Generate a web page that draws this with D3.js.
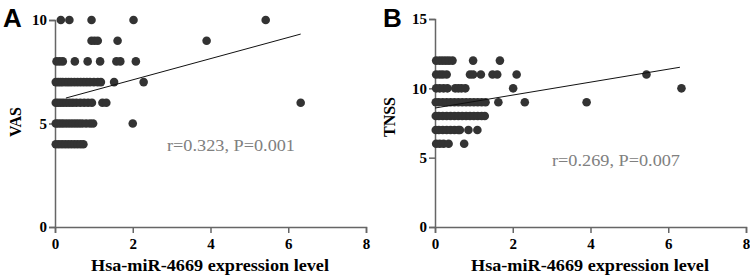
<!DOCTYPE html>
<html lang="en">
<head>
  <meta charset="UTF-8">
  <title>scatter-correlation</title>
  <script src="https://cdn.jsdelivr.net/npm/d3@7"></script>
  <style>
    body { margin: 0; background: #fff; }
    .tick text { font-family: "Liberation Serif", serif; font-weight: bold; font-size: 15px; fill: #000; }
    .axis path, .axis line { stroke: #666; stroke-width: 1.5px; }
  </style>
</head>
<body>
<script>
// x values of the points, grouped by their (integer) score
let vasLevels = [10, 9, 8, 7, 6, 5, 4];
let vasX = [
  [0.15, 0.37, 0.94, 2.02, 5.42],
  [0.94, 1.02, 1.1, 1.61, 3.9],
  [0.04, 0.12, 0.2, 0.51, 0.84, 1.16, 1.58, 1.68, 2.08],
  [0.02, 0.08, 0.14, 0.2, 0.28, 0.35, 0.42, 0.5, 0.58, 0.66, 0.74, 0.82, 0.9, 1.0, 1.1, 1.18, 1.52, 2.28],
  [0.02, 0.08, 0.15, 0.22, 0.3, 0.38, 0.46, 0.55, 0.65, 0.75, 0.85, 0.95, 1.22, 1.32, 6.32],
  [0.02, 0.08, 0.15, 0.22, 0.3, 0.38, 0.46, 0.54, 0.62, 0.7, 0.8, 0.9, 0.98, 2.0],
  [0.02, 0.1, 0.18, 0.26, 0.34, 0.42, 0.5, 0.58, 0.66, 0.73]
];
let vasFit = [[0.28, 6.23], [6.32, 9.32]];

let tnssLevels = [12, 11, 10, 9, 8, 7, 6];
let tnssX = [
  [0.03, 0.12, 0.2, 0.28, 0.36, 0.45, 0.98, 1.67],
  [0.03, 0.12, 0.2, 0.3, 0.9, 0.98, 1.18, 1.48, 1.6, 2.1, 5.44],
  [0.03, 0.12, 0.22, 0.32, 0.52, 0.6, 0.68, 0.78, 2.01, 6.34],
  [0.02, 0.1, 0.2, 0.3, 0.4, 0.5, 0.6, 0.7, 0.8, 0.9, 1.0, 1.1, 1.2, 1.3, 1.63, 2.31, 3.9],
  [0.02, 0.1, 0.2, 0.3, 0.4, 0.5, 0.6, 0.7, 0.8, 0.9, 1.0, 1.1, 1.2, 1.28],
  [0.02, 0.1, 0.2, 0.3, 0.4, 0.5, 0.6, 0.64, 0.86, 1.09],
  [0.03, 0.12, 0.22, 0.35, 0.75]
];
let tnssFit = [[0, 8.58], [6.3, 11.52]];

let xTicks = [0, 2, 4, 6, 8];
let vasTicks = [0, 5, 10];
let tnssTicks = [0, 5, 10, 15];

let svg = d3.select('body')
  .append('svg')
  .attr('width', 750)
  .attr('height', 278);

function panel(opt) {
  let g = svg.append('g');
  let x = d3.scaleLinear().domain([0, 8]).range([opt.left, opt.left + 311]);
  let y = d3.scaleLinear().domain([0, opt.yMax]).range([227, opt.top]);

  g.append('g')
    .attr('class', 'axis')
    .attr('transform', 'translate(0,227)')
    .call(d3.axisBottom(x).tickValues(xTicks).tickSize(6).tickPadding(5));

  g.append('g')
    .attr('class', 'axis')
    .attr('transform', 'translate(' + opt.left + ',0)')
    .call(d3.axisLeft(y).tickValues(opt.ticks).tickSize(6).tickPadding(2));

  let pts = [];
  opt.levels.forEach(function (lv, i) {
    opt.xs[i].forEach(function (v) { pts.push({x: v, y: lv}); });
  });

  g.selectAll('circle.pt')
    .data(pts)
    .enter()
    .append('circle')
    .attr('class', 'pt')
    .attr('cx', function (d) { return x(d.x); })
    .attr('cy', function (d) { return y(d.y); })
    .attr('r', 4.3)
    .attr('fill', '#333');

  g.append('path')
    .datum(opt.fit)
    .attr('d', d3.line().x(function (d) { return x(d[0]); }).y(function (d) { return y(d[1]); }))
    .attr('stroke', '#111')
    .attr('stroke-width', 1)
    .attr('fill', 'none');

  g.append('text')
    .attr('x', opt.left + 155)
    .attr('y', 271)
    .attr('text-anchor', 'middle')
    .attr('textLength', 238)
    .attr('lengthAdjust', 'spacingAndGlyphs')
    .style('font-family', '"Liberation Serif", serif')
    .style('font-weight', 'bold')
    .style('font-size', '16px')
    .text('Hsa-miR-4669 expression level');

  g.append('text')
    .attr('transform', 'translate(' + opt.labelX + ',' + opt.labelY + ') rotate(-90)')
    .attr('text-anchor', 'middle')
    .style('font-family', '"Liberation Serif", serif')
    .style('font-weight', 'bold')
    .style('font-size', '16px')
    .text(opt.yTitle);

  g.append('text')
    .attr('x', opt.noteX)
    .attr('y', opt.noteY)
    .attr('textLength', 128)
    .attr('lengthAdjust', 'spacingAndGlyphs')
    .style('font-family', '"Liberation Serif", serif')
    .style('font-size', '16px')
    .style('fill', '#808080')
    .text(opt.note);

  g.append('text')
    .attr('x', opt.left - 52)
    .attr('y', 27)
    .style('font-family', '"Liberation Sans", Arial, sans-serif')
    .style('font-weight', 'bold')
    .style('font-size', '26px')
    .text(opt.letter);
}

panel({
  left: 55, top: 20, yMax: 10, ticks: vasTicks,
  levels: vasLevels, xs: vasX, fit: vasFit,
  yTitle: 'VAS', labelX: 21, labelY: 122,
  note: 'r=0.323, P=0.001', noteX: 167, noteY: 151, letter: 'A'
});

panel({
  left: 435, top: 19, yMax: 15, ticks: tnssTicks,
  levels: tnssLevels, xs: tnssX, fit: tnssFit,
  yTitle: 'TNSS', labelX: 395, labelY: 117,
  note: 'r=0.269, P=0.007', noteX: 552, noteY: 166, letter: 'B'
});
</script>
</body>
</html>
